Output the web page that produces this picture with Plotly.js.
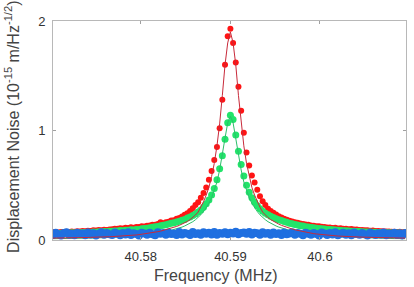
<!DOCTYPE html>
<html>
<head>
<meta charset="utf-8">
<script src="https://cdn.plot.ly/plotly-3.0.1.min.js"></script>
<style>html,body{margin:0;padding:0;background:#fff;}#chart{width:414px;height:287px;}</style>
</head>
<body>
<div id="chart"></div>
<script>
// Frequency grid (MHz): first sample and spacing
const freqStart = 40.5702;
const freqStep = 0.0003;

// Tick labels
const xTickVals = [40.58, 40.59, 40.6];
const xTickText = ['40.58', '40.59', '40.6'];
const yTickVals = [0, 1, 2];
const yTickText = ['0', '1', '2'];

// Red data (displacement noise, 1e-15 m/Hz^1/2)
const redData = [
  0.070,0.073,0.069,0.074,0.072,0.076,0.073,0.078,0.075,0.080,0.077,0.082,
  0.080,0.085,0.083,0.088,0.086,0.091,0.089,0.094,0.092,0.097,0.099,0.102,
  0.103,0.108,0.105,0.111,0.109,0.116,0.113,0.119,0.118,0.126,0.124,0.131,
  0.132,0.139,0.140,0.147,0.162,0.153,0.163,0.166,0.177,0.181,0.194,0.201,
  0.215,0.230,0.245,0.265,0.290,0.320,0.345,0.385,0.430,0.480,0.550,0.630,
  0.730,0.850,1.020,1.280,1.600,1.860,
  1.930,
  1.800,1.620,1.400,1.180,0.980,0.800,0.680,0.590,0.525,0.460,0.400,0.355,
  0.320,0.285,0.265,0.248,0.232,0.218,0.206,0.195,0.186,0.176,0.170,0.162,
  0.158,0.150,0.147,0.141,0.139,0.133,0.131,0.126,0.125,0.120,0.119,0.115,
  0.115,0.110,0.111,0.106,0.107,0.102,0.103,0.099,0.100,0.095,0.096,0.091,
  0.092,0.088,0.089,0.085,0.086,0.082,0.083,0.079,0.081,0.077,0.078,0.075,
  0.076,0.073,0.075,0.071,0.073
];

// Green data
const greenData = [
  0.058,0.062,0.057,0.061,0.060,0.064,0.062,0.066,0.063,0.067,0.065,0.068,
  0.067,0.071,0.069,0.072,0.071,0.075,0.074,0.078,0.076,0.080,0.079,0.083,
  0.082,0.086,0.085,0.089,0.088,0.093,0.092,0.097,0.096,0.102,0.104,0.108,
  0.112,0.116,0.121,0.124,0.131,0.134,0.140,0.145,0.152,0.158,0.165,0.171,
  0.180,0.188,0.200,0.210,0.224,0.238,0.256,0.275,0.298,0.330,0.365,0.410,
  0.470,0.550,0.650,0.770,0.920,1.070,
  1.140,
  1.100,0.960,0.810,0.690,0.585,0.500,0.435,0.385,0.345,0.312,0.285,0.262,
  0.245,0.230,0.216,0.205,0.195,0.185,0.177,0.168,0.161,0.154,0.148,0.142,
  0.137,0.131,0.127,0.122,0.119,0.114,0.112,0.108,0.106,0.102,0.100,0.097,
  0.095,0.093,0.091,0.089,0.087,0.085,0.084,0.082,0.081,0.079,0.078,0.077,
  0.075,0.074,0.073,0.072,0.071,0.070,0.069,0.068,0.067,0.066,0.066,0.065,
  0.064,0.063,0.063,0.062,0.062
];

// Blue data (background)
const blueData = [
  0.046,0.066,0.052,0.041,0.063,0.070,0.049,0.057,0.043,0.067,0.054,0.060,
  0.044,0.069,0.051,0.062,0.042,0.058,0.071,0.047,0.064,0.053,0.045,0.068,
  0.056,0.043,0.065,0.050,0.070,0.046,0.061,0.055,0.041,0.067,0.059,0.048,
  0.066,0.052,0.044,0.071,0.057,0.063,0.047,0.069,0.054,0.060,0.045,0.072,
  0.050,0.064,0.058,0.046,0.073,0.055,0.062,0.049,0.070,0.057,0.066,0.051,
  0.074,0.048,0.063,0.058,0.071,0.052,0.067,0.060,0.075,0.053,0.064,0.069,
  0.056,0.072,0.050,0.066,0.061,0.047,0.070,0.058,0.065,0.049,0.068,0.055,
  0.062,0.045,0.069,0.053,0.060,0.071,0.047,0.064,0.056,0.043,0.067,0.058,
  0.049,0.065,0.054,0.042,0.068,0.059,0.046,0.063,0.051,0.070,0.044,0.057,
  0.066,0.048,0.061,0.043,0.069,0.055,0.047,0.064,0.052,0.041,0.067,0.058,
  0.045,0.062,0.050,0.068,0.043,0.059,0.053,0.066,0.046,0.061,0.042,0.065
];

// Fit curves
const redFit = [
  0.017,0.017,0.018,0.018,0.018,0.019,0.019,0.020,0.020,0.021,0.021,0.022,
  0.022,0.023,0.024,0.024,0.025,0.026,0.027,0.028,0.029,0.030,0.031,0.032,
  0.033,0.035,0.036,0.038,0.040,0.042,0.044,0.046,0.049,0.052,0.055,0.058,
  0.062,0.066,0.071,0.076,0.081,0.087,0.093,0.100,0.107,0.115,0.124,0.134,
  0.145,0.157,0.170,0.186,0.205,0.228,0.255,0.300,0.350,0.410,0.480,0.580,
  0.700,0.860,1.060,1.320,1.600,1.800,
  1.900,
  1.800,1.600,1.320,1.060,0.860,0.700,0.580,0.480,0.410,0.350,0.300,0.255,
  0.228,0.205,0.186,0.170,0.157,0.145,0.134,0.124,0.115,0.107,0.100,0.093,
  0.087,0.081,0.076,0.071,0.066,0.062,0.058,0.055,0.052,0.049,0.046,0.044,
  0.042,0.040,0.038,0.036,0.035,0.033,0.032,0.031,0.030,0.029,0.028,0.027,
  0.026,0.025,0.024,0.024,0.023,0.022,0.022,0.021,0.021,0.020,0.020,0.019,
  0.019,0.018,0.018,0.018,0.017
];
const greenFit = [
  0.012,0.012,0.012,0.013,0.013,0.013,0.014,0.014,0.015,0.015,0.016,0.016,
  0.017,0.017,0.018,0.018,0.019,0.019,0.020,0.021,0.022,0.023,0.024,0.025,
  0.027,0.028,0.030,0.031,0.033,0.035,0.037,0.039,0.042,0.045,0.048,0.051,
  0.054,0.057,0.060,0.064,0.068,0.072,0.077,0.082,0.088,0.094,0.101,0.109,
  0.118,0.128,0.139,0.152,0.167,0.185,0.205,0.230,0.260,0.295,0.335,0.385,
  0.450,0.530,0.640,0.770,0.930,1.070,
  1.130,
  1.070,0.930,0.770,0.640,0.530,0.450,0.385,0.335,0.295,0.260,0.230,0.205,
  0.185,0.167,0.152,0.139,0.128,0.118,0.109,0.101,0.094,0.088,0.082,0.077,
  0.072,0.068,0.064,0.060,0.057,0.054,0.051,0.048,0.045,0.042,0.039,0.037,
  0.035,0.033,0.031,0.030,0.028,0.027,0.025,0.024,0.023,0.022,0.021,0.020,
  0.019,0.019,0.018,0.018,0.017,0.017,0.016,0.016,0.015,0.015,0.014,0.014,
  0.013,0.013,0.013,0.012,0.012
];

const RED = '#ff1414';
const GREEN = '#22e46a';
const BLUE = '#1f6fe0';

const traces = [
  {y: redData, x0: freqStart, dx: freqStep, type: 'scatter', mode: 'markers',
   marker: {color: RED, size: 6, symbol: 'circle', line: {width: 0}}, hoverinfo: 'skip'},
  {y: greenData, x0: freqStart, dx: freqStep, type: 'scatter', mode: 'markers',
   marker: {color: GREEN, size: 7, symbol: 'circle', line: {width: 0}}, hoverinfo: 'skip'},
  {y: greenFit, x0: freqStart, dx: freqStep, type: 'scatter', mode: 'lines',
   line: {color: '#2bbf6a', width: 1}, hoverinfo: 'skip'},
  {y: blueData, x0: freqStart, dx: freqStep, type: 'scatter', mode: 'markers',
   marker: {color: BLUE, size: 8, symbol: 'circle', line: {width: 0}}, hoverinfo: 'skip'},
  {y: redFit, x0: freqStart, dx: freqStep, type: 'scatter', mode: 'lines',
   line: {color: '#c82a3a', width: 1}, hoverinfo: 'skip'}
];

const FONT = 'Liberation Sans, Arial, sans-serif';

const layout = {
  width: 414, height: 287,
  margin: {l: 53, r: 8, t: 21, b: 47, pad: 0},
  paper_bgcolor: '#ffffff', plot_bgcolor: '#ffffff',
  showlegend: false,
  font: {family: FONT, color: '#333333', size: 13},
  xaxis: {
    range: [40.5702, 40.6096], tickmode: 'array', tickvals: xTickVals, ticktext: xTickText,
    ticks: 'inside', ticklen: 3, tickcolor: '#a0a0a0', showline: true, linecolor: '#b8b8b8',
    linewidth: 1, mirror: 'ticks', showgrid: false, zeroline: false, ticklabelstandoff: 4,
    tickfont: {family: FONT, size: 13, color: '#333333'}
  },
  yaxis: {
    range: [0, 2], tickmode: 'array', tickvals: yTickVals, ticktext: yTickText,
    ticks: 'inside', ticklen: 3, tickcolor: '#a0a0a0', showline: true, linecolor: '#b8b8b8',
    linewidth: 1, mirror: 'ticks', showgrid: false, zeroline: false, ticklabelstandoff: 4,
    tickfont: {family: FONT, size: 13, color: '#333333'}
  },
  annotations: [
    {text: 'Frequency (MHz)', xref: 'paper', yref: 'paper', x: 0.462, y: -0.162,
     xanchor: 'center', yanchor: 'middle', showarrow: false,
     font: {family: FONT, size: 16, color: '#444444'}},
    {text: 'Displacement Noise (10<sup>-15</sup> m/Hz<sup>-1/2</sup>)', xref: 'paper', yref: 'paper',
     x: -0.118, y: 0.518, xanchor: 'center', yanchor: 'middle', textangle: -90, showarrow: false,
     font: {family: FONT, size: 16, color: '#444444'}}
  ]
};

Plotly.newPlot('chart', traces, layout, {staticPlot: true, displayModeBar: false});
</script>
</body>
</html>
